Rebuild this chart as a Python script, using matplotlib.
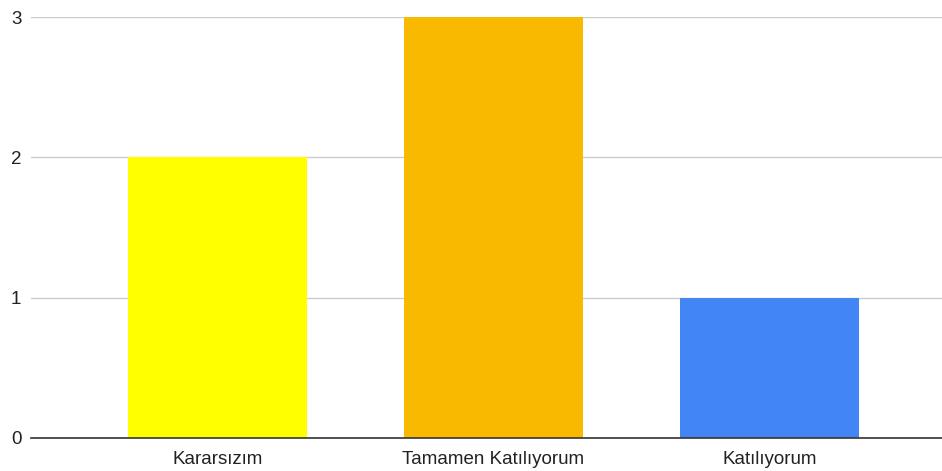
import matplotlib
matplotlib.use("Agg")
import matplotlib.pyplot as plt

categories = ["Kararsızım", "Tamamen Katılıyorum", "Katılıyorum"]
values = [2, 3, 1]
colors = ["#FFFF00", "#F9B900", "#4285F4"]
yticks = [0, 1, 2, 3]

plt.rcParams['font.family'] = ['Liberation Sans', 'DejaVu Sans']
fig = plt.figure(figsize=(9.42, 4.71), dpi=100)
ax = fig.add_axes([31/942, 33/471, 911/942, 421/471])
x = list(range(len(categories)))
ax.bar(x, values, width=0.649, color=colors, zorder=3)
ax.set_xlim(-0.676, 2.625)
ax.set_ylim(0, 3)
ax.set_yticks(yticks)
ax.set_yticklabels([str(v) for v in yticks], fontsize=13.5, color="#222222")
ax.set_xticks(x)
ax.set_xticklabels(categories, fontsize=13.5, color="#222222")
ax.tick_params(length=0)
ax.tick_params(axis='y', pad=7)
ax.tick_params(axis='x', pad=9)
ax.grid(axis='y', color="#CCCCCC", linewidth=1, zorder=0)
for s in ["top", "right", "left"]:
    ax.spines[s].set_visible(False)
ax.spines["bottom"].set_color("#333333")
ax.spines["bottom"].set_linewidth(1.2)
ax.spines["bottom"].set_zorder(4)
fig.savefig("out.png", dpi=100)
